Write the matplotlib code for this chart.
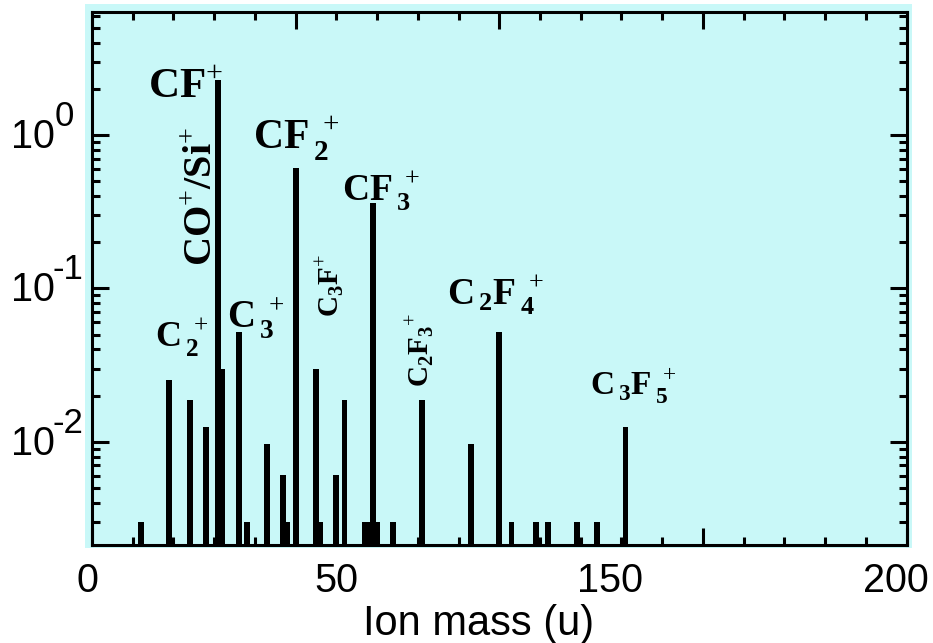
import matplotlib.pyplot as plt
from matplotlib.patches import Rectangle
from matplotlib.ticker import MultipleLocator, NullFormatter, LogLocator

plt.rcParams['font.family'] = 'Liberation Sans'
plt.rcParams['mathtext.fontset'] = 'custom'
plt.rcParams['mathtext.rm'] = 'Liberation Serif'
plt.rcParams['mathtext.bf'] = 'Liberation Serif:bold'

# ion mass (u) and relative signal of each peak
masses = [12, 19, 24, 28, 31, 32, 36, 38, 43, 47, 48, 50, 55, 56, 60, 62,
          67, 68, 69, 70, 74, 81, 93, 100, 103, 109, 112, 119, 124, 131]
signal = [0.0029, 0.025, 0.0187, 0.0123, 2.28, 0.0296, 0.0516, 0.0029,
          0.0096, 0.0060, 0.0029, 0.607, 0.0296, 0.0029, 0.0060, 0.0187,
          0.0029, 0.0029, 0.358, 0.0029, 0.0029, 0.0187, 0.0096, 0.0516,
          0.0029, 0.0029, 0.0029, 0.0029, 0.0029, 0.0123]

# peak annotations
peak_labels = [r'$\mathbf{CF}^{+}$',
               r'$\mathbf{CF}_{\,\mathbf{2}}^{\;+}$',
               r'$\mathbf{CF}_{\,\mathbf{3}}^{\;+}$',
               r'$\mathbf{C}_{\,\mathbf{2}}\mathbf{F}_{\,\mathbf{4}}^{\;+}$',
               r'$\mathbf{C}_{\,\mathbf{3}}\mathbf{F}_{\,\mathbf{5}}^{\;+}$',
               r'$\mathbf{C}_{\,\mathbf{2}}^{\;+}$',
               r'$\mathbf{C}_{\,\mathbf{3}}^{\;+}$',
               r'$\mathbf{CO}^{+}\mathbf{/Si}^{+}$',
               r'$\mathbf{C}_{\mathbf{3}}\mathbf{F}^{+}$',
               r'$\mathbf{C}_{\mathbf{2}}\mathbf{F}_{\mathbf{3}}{}^{+}$']
label_x = [13.8, 39.6, 61.4, 87.2, 122.4, 15.5, 33.2, 26.8, 58.6, 80.6]
label_y = [1.74, 0.80, 0.377, 0.079, 0.0202, 0.0414, 0.0551, 0.40, 0.104, 0.0400]
label_rot = [0, 0, 0, 0, 0, 0, 0, 90, 90, 90]
label_size = [31, 30, 27, 27, 24, 26, 28, 29, 21, 21]

# axis tick labels as printed in the figure
xtick_text = ['0', '50', '150', '200']
xtick_pos = [-1.2, 60.1, 127.3, 197.3]
ytick_val = [1, 0.1, 0.01]
ytick_exp = ['0', '-1', '-2']

fig = plt.figure(figsize=(9.33, 6.43), dpi=100)
fig.patches.append(Rectangle((0.0911, 0.1477), 0.8864, 0.846, transform=fig.transFigure,
                             facecolor='#C9F8F8', edgecolor='none', zorder=-1))
ax = fig.add_axes([0.0986, 0.1524, 0.873, 0.8297])
ax.set_facecolor('#C9F8F8')

ax.bar(masses, signal, width=1.45, bottom=1e-4, color='black', zorder=2)

ax.set_yscale('log')
ax.set_xlim(0, 200)
ax.set_ylim(0.00212, 6.4)

ax.xaxis.set_major_locator(MultipleLocator(50))
ax.xaxis.set_minor_locator(MultipleLocator(10))
ax.xaxis.set_major_formatter(NullFormatter())
ax.yaxis.set_major_locator(LogLocator(base=10))
ax.yaxis.set_minor_locator(LogLocator(base=10, subs=range(2, 10)))
ax.yaxis.set_major_formatter(NullFormatter())
ax.yaxis.set_minor_formatter(NullFormatter())

ax.tick_params(which='both', direction='in', top=True, right=True, width=2.2)
ax.tick_params(which='major', length=12)
ax.tick_params(which='minor', length=6)
for s in ax.spines.values():
    s.set_linewidth(2.2)

for t, x in zip(xtick_text, xtick_pos):
    ax.text(x, -0.088, t, transform=ax.get_xaxis_transform(), ha='center',
            va='baseline', fontsize=28.5)

# y labels: "10" plus a big raised exponent
for v, e in zip(ytick_val, ytick_exp):
    ax.annotate('10', xy=(0, v), xycoords=('axes fraction', 'data'),
                xytext=(-37, -2), textcoords='offset pixels',
                ha='right', va='center', fontsize=28.5)
    ax.annotate(e, xy=(0, v), xycoords=('axes fraction', 'data'),
                xytext=(-39 if e != '0' else -37, 9), textcoords='offset pixels',
                ha='left', va='baseline', fontsize=25)

ax.set_xlabel('Ion mass (u)', fontsize=30, va='baseline')
ax.xaxis.set_label_coords(0.474, -0.1687)

for t, x, y, r, s in zip(peak_labels, label_x, label_y, label_rot, label_size):
    if r:
        ax.text(x, y, t, rotation=r, ha='center', va='center', fontsize=s, zorder=3)
    else:
        ax.text(x, y, t, ha='left', va='baseline', fontsize=s, zorder=3)

plt.savefig('out.png', dpi=100)
